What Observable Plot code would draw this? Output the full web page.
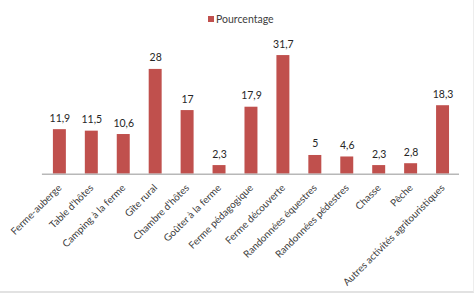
<!DOCTYPE html>
<html>
<head>
<meta charset="utf-8">
<script src="https://cdn.jsdelivr.net/npm/d3@7"></script>
<script src="https://cdn.jsdelivr.net/npm/@observablehq/plot@0.6"></script>
<style>
  html, body { margin: 0; padding: 0; background: #fff; }
  #wrap { width: 474px; height: 293px; box-sizing: border-box; border-bottom: 2px solid #e2e2e2; border-right: 1px solid #ededed; font-family: Lato, "Open Sans", sans-serif; overflow: hidden; }
  #legend { position: relative; height: 30px; }
  #legend .sw { position: absolute; left: 208px; top: 16px; width: 6px; height: 6px; background: #C0504D; }
  #legend .lb { position: absolute; left: 216px; top: 12px; font-size: 10.5px; line-height: 14px; color: #404040; }
  svg { display: block; }
</style>
</head>
<body>
<div id="wrap">
  <div id="legend"><div class="sw"></div><div class="lb">Pourcentage</div></div>
  <div id="chart"></div>
</div>
<script>
const categories = [
  "Ferme-auberge", "Table d'hôtes", "Camping à la ferme", "Gîte rural",
  "Chambre d'hôtes", "Goûter à la ferme", "Ferme pédagogique", "Ferme découverte",
  "Randonnées équestres", "Randonnées pédestres", "Chasse", "Pêche",
  "Autres activités agritouristiques"
];
const values = [11.9, 11.5, 10.6, 28, 17, 2.3, 17.9, 31.7, 5, 4.6, 2.3, 2.8, 18.3];
const seriesName = "Pourcentage";

const data = categories.map((c, i) => ({category: c, value: values[i]}));
const fmt = v => String(v).replace(".", ",");

const chart = Plot.plot({
  width: 474,
  height: 261,
  marginLeft: 42,
  marginRight: 14,
  marginTop: 12.75,
  marginBottom: 117,
  style: {fontFamily: "Lato, 'Open Sans', sans-serif", background: "#fff"},
  x: {domain: categories, paddingInner: 0.6, paddingOuter: 0.3, label: null},
  y: {domain: [0, 35], axis: null},
  marks: [
    Plot.barY(data, {x: "category", y: "value", fill: "#C0504D"}),
    Plot.ruleY([0], {stroke: "#b8b8b8", strokeWidth: 1.5}),
    Plot.text(data, {x: "category", y: "value", text: d => fmt(d.value), dy: -8, lineAnchor: "bottom", fontSize: 10.5, fill: "#262626"}),
    Plot.axisX({tickRotate: -45, tickSize: 0, tickPadding: 12, fontSize: 10, color: "#404040", label: null})
  ]
});
document.getElementById("chart").appendChild(chart);
</script>
</body>
</html>
